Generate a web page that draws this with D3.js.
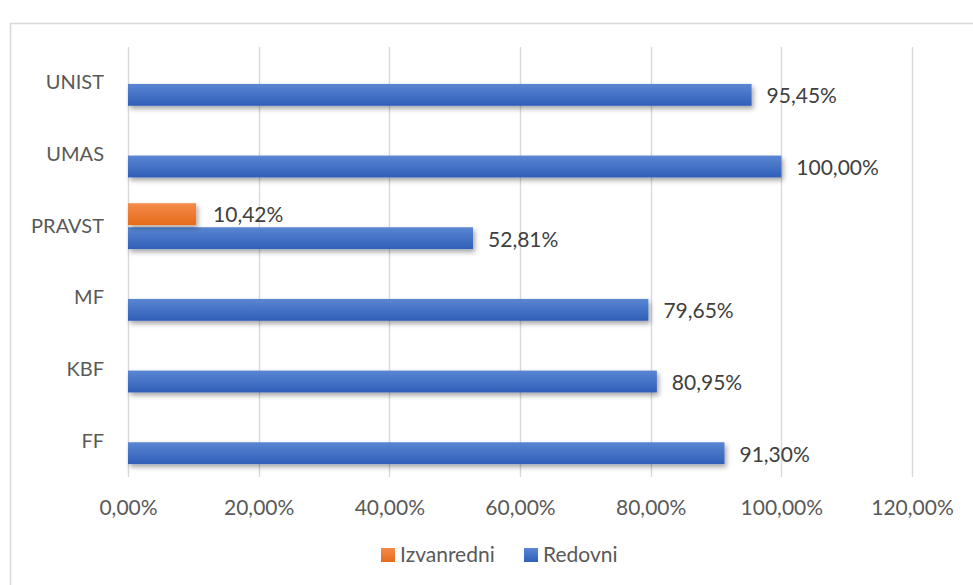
<!DOCTYPE html>
<html><head><meta charset="utf-8">
<script src="https://cdn.jsdelivr.net/npm/d3@7"></script>
<style>body{margin:0;background:#fff}svg{display:block}</style>
</head><body>
<script>
const categories = ["UNIST","UMAS","PRAVST","MF","KBF","FF"];
const redovni = [95.45,100.00,52.81,79.65,80.95,91.30];
const izvanredni = [null,null,10.42,null,null,null];
const xTicks = [0,20,40,60,80,100,120];
const seriesNames = ["Izvanredni","Redovni"];

const W=973,H=585;
const svg=d3.select("body").append("svg").attr("width",W).attr("height",H);
const defs=svg.append("defs");
function grad(id,c1,c2){const g=defs.append("linearGradient").attr("id",id).attr("x1",0).attr("y1",0).attr("x2",0).attr("y2",1);
g.append("stop").attr("offset","0%").attr("stop-color",c1);g.append("stop").attr("offset","100%").attr("stop-color",c2);}
grad("gb","#5a86d2","#2f5fb8");
grad("go","#f38b4a","#e66b1c");
const f=defs.append("filter").attr("id","sh").attr("x","-5%").attr("y","-30%").attr("width","115%").attr("height","190%");
f.append("feDropShadow").attr("dx",2).attr("dy",3).attr("stdDeviation",2.5).attr("flood-color","#000").attr("flood-opacity",0.35);

svg.append("rect").attr("x",10.5).attr("y",23.5).attr("width",980).attr("height",600).attr("fill","#fff").attr("stroke","#d9d9d9").attr("stroke-width",1.5);

const x=d3.scaleLinear().domain([0,120]).range([128,912]);
const y=d3.scaleBand().domain(categories).range([47,477]).paddingInner(0.36).paddingOuter(0.18);
const font="Lato, 'Open Sans', sans-serif";

// gridlines
svg.append("g").selectAll("line").data(xTicks).join("line")
 .attr("x1",d=>Math.round(x(d))+0.5).attr("x2",d=>Math.round(x(d))+0.5).attr("y1",47).attr("y2",477)
 .attr("stroke","#d9d9d9").attr("stroke-width",1.4);

// x axis labels
const xa=svg.append("g").attr("transform","translate(0,477)").call(d3.axisBottom(x).tickValues(xTicks).tickSize(0).tickPadding(23)
 .tickFormat(d=>d3.format(".2f")(d).replace(".",",")+"%"));
xa.select(".domain").remove();
xa.selectAll("text").attr("font-family",font).attr("font-size",21).attr("fill","#595959");

// y labels
const ya=svg.append("g").attr("transform","translate(104,0)").call(d3.axisLeft(y).tickSize(0).tickPadding(0));
ya.select(".domain").remove();
ya.selectAll("text").attr("font-family",font).attr("font-size",20).attr("fill","#595959");

const sub=d3.scaleBand().domain(seriesNames).range([0,y.bandwidth()]).paddingInner(0.09);

const rows=categories.map((c,i)=>({c,r:redovni[i],z:izvanredni[i]}));
const bars=svg.append("g");
bars.selectAll(".r").data(rows).join("rect").attr("class","r")
 .attr("x",x(0)).attr("y",d=>y(d.c)+sub("Redovni")).attr("height",sub.bandwidth())
 .attr("width",d=>x(d.r)-x(0)).attr("fill","url(#gb)").attr("filter","url(#sh)");
bars.selectAll(".z").data(rows.filter(d=>d.z!=null)).join("rect").attr("class","z")
 .attr("x",x(0)).attr("y",d=>y(d.c)+sub("Izvanredni")).attr("height",sub.bandwidth())
 .attr("width",d=>x(d.z)-x(0)).attr("fill","url(#go)").attr("filter","url(#sh)");

const fmt=v=>d3.format(".2f")(v).replace(".",",")+"%";
svg.append("g").selectAll("text").data(rows).join("text")
 .attr("x",d=>x(d.r)+15).attr("y",d=>y(d.c)+sub("Redovni")+sub.bandwidth()/2+1).attr("dy","0.35em")
 .attr("font-family",font).attr("font-size",21).attr("fill","#404040").text(d=>fmt(d.r));
svg.append("g").selectAll("text").data(rows.filter(d=>d.z!=null)).join("text")
 .attr("x",d=>x(d.z)+17).attr("y",d=>y(d.c)+sub("Izvanredni")+sub.bandwidth()/2).attr("dy","0.35em")
 .attr("font-family",font).attr("font-size",21).attr("fill","#404040").text(d=>fmt(d.z));

// legend
const lg=svg.append("g");
const items=[{n:"Izvanredni",c:"url(#go)",x:381},{n:"Redovni",c:"url(#gb)",x:524}];
const li=lg.selectAll("g").data(items).join("g").attr("transform",d=>`translate(${d.x},548)`);
li.append("rect").attr("width",14).attr("height",14).attr("fill",d=>d.c);
li.append("text").attr("x",19).attr("y",7).attr("dy","0.35em").attr("font-family",font).attr("font-size",21).attr("fill","#595959").text(d=>d.n);
</script>
</body></html>
